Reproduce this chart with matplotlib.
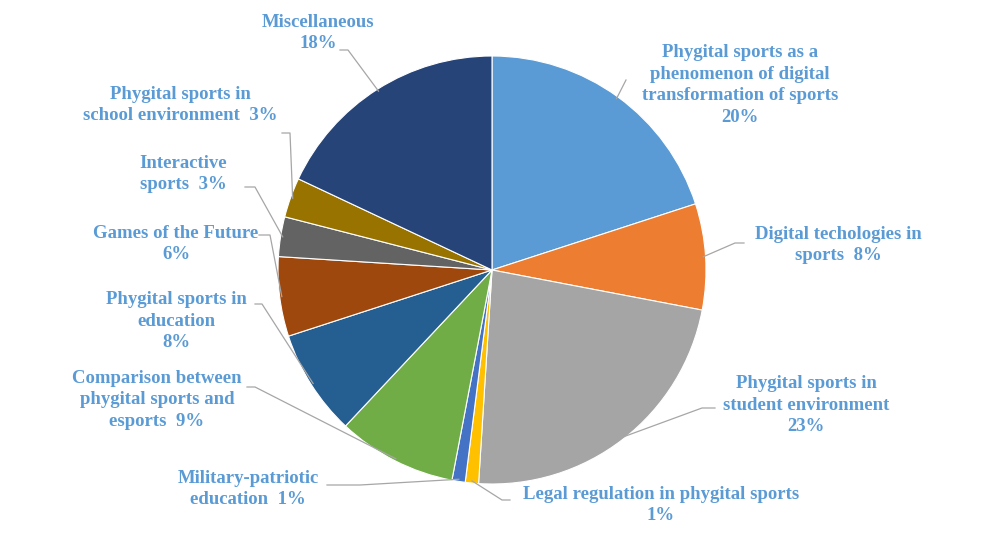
import numpy as np
import matplotlib.pyplot as plt

labels = ['Phygital sports as a\nphenomenon of digital\ntransformation of sports\n20%',
          'Digital techologies in\nsports  8%',
          'Phygital sports in\nstudent environment\n23%',
          'Legal regulation in phygital sports\n1%',
          'Military-patriotic\neducation  1%',
          'Comparison between\nphygital sports and\nesports  9%',
          'Phygital sports in\neducation\n8%',
          'Games of the Future\n6%',
          'Interactive\nsports  3%',
          'Phygital sports in\nschool environment  3%',
          'Miscellaneous\n18%']
values = [20, 8, 23, 1, 1, 9, 8, 6, 3, 3, 18]
colors = ['#5B9BD5', '#ED7D31', '#A5A5A5', '#FFC000', '#4472C4', '#70AD47',
          '#255E91', '#9E480E', '#636363', '#997300', '#264478']

# layout in pixels (y measured from top): text centre, elbow, end of short horizontal
text_pos = [(740, 85), (838, 245), (806, 405), (661, 505), (248, 489), (157, 400),
            (176, 321), (176, 244), (183, 174), (180, 105), (318, 33)]
elbows = [(626, 80), (735, 243), (702, 408), (502, 500), (360, 485), (255, 387),
          (262, 304), (270, 235), (255, 187), (290, 133), (348, 50)]
ends = [(626, 80), (744, 243), (715, 408), (510, 500), (327, 485), (247, 387),
        (255, 304), (259, 235), (245, 187), (282, 133), (340, 50)]

W, H = 985, 541
cx, cy, r = 492, 270, 214

fig = plt.figure(figsize=(9.85, 5.41), dpi=100)
ax = fig.add_axes([0, 0, 1, 1])

wedges, _ = ax.pie(values, colors=colors, startangle=90, counterclock=False,
                   center=(cx, H - cy), radius=r,
                   wedgeprops=dict(edgecolor='white', linewidth=0.8))

for w, lab, tp, el, en in zip(wedges, labels, text_pos, elbows, ends):
    ang = np.deg2rad((w.theta1 + w.theta2) / 2)
    px = cx + 0.99 * r * np.cos(ang)
    py = (H - cy) + 0.99 * r * np.sin(ang)
    ax.plot([px, el[0], en[0]], [py, H - el[1], H - en[1]], color='#A6A6A6', linewidth=0.9)
    ax.text(tp[0], H - tp[1], lab, ha='center', va='center', color='#5B9BD5',
            fontsize=13.5, fontweight='bold', family='Liberation Serif', linespacing=1.38)

ax.set_xlim(0, W)
ax.set_ylim(0, H)
ax.set_aspect('auto')
ax.axis('off')

fig.savefig('out.png', dpi=100)
